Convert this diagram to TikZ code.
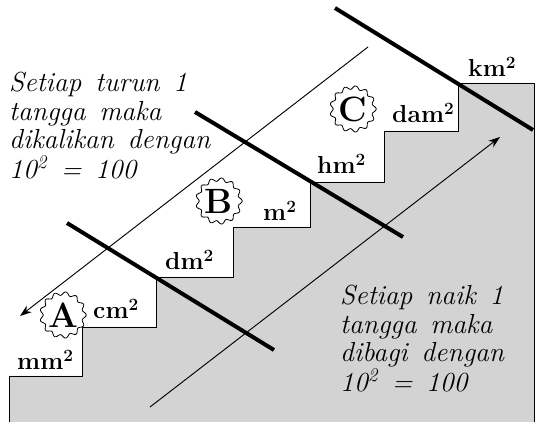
\documentclass[tikz,border=0pt]{standalone}
\usetikzlibrary{arrows.meta}

\definecolor{stairgray}{RGB}{211,211,211}

\newcommand{\wsp}{\hspace{0.5em}}

\tikzset{
    unit/.style={font=\fontsize{21}{24}\selectfont\bfseries, inner sep=0pt, anchor=base west},
    note/.style={font=\fontsize{23.5}{24.3}\selectfont\itshape,
                 align=left, inner sep=0pt, anchor=base west},
    divider/.style={line width=3.4pt},
    seal/.style={font=\fontsize{30}{32}\selectfont\bfseries, inner sep=0pt},
}

% badge: centre, name, letter
\newcommand{\sealmark}[3]{%
    \filldraw[fill=white, line width=0.7pt, shift={(#1)}]
        plot[domain=0:360, samples=181] (\x:{21.5+1.7*cos(13*\x)}) -- cycle;
    \node[seal] (#2) at (#1) {#3};
}

\begin{document}
\begin{tikzpicture}[x=0.3mm, y=-0.3mm, >={Stealth[length=10pt, width=7pt]}]
    \useasboundingbox (0,0) rectangle (539,422);

    % the stairs
    \draw[fill=stairgray, line width=0.7pt]
        (9,422) -- (9,376) -- (82,376) -- (82,327) -- (156,327) -- (156,277)
        -- (233,277) -- (233,227) -- (310,227) -- (310,182) -- (384,182)
        -- (384,131) -- (458,131) -- (458,83) -- (534,83) -- (534,422);

    % units on the treads
    \foreach \x/\y/\u in {17/370/mm, 93/319/cm, 165/270/dm, 263/221/m,
                          317/174/hm, 392/123/dam, 468/77/km}
        \node[unit] (u\u) at (\x,\y) {\u\textsuperscript{2}};

    % notes (anchored at the last line)
    \node[note] (turun) at (9,179)
        {Setiap\wsp turun\wsp 1\\tangga\wsp maka\\dikalikan\wsp dengan\\10\textsuperscript{2}\wsp =\wsp 100};
    \node[note] (naik) at (340,392)
        {Setiap\wsp naik\wsp 1\\tangga\wsp maka\\dibagi\wsp dengan\\10\textsuperscript{2}\wsp =\wsp 100};

    % arrows
    \coordinate (downA) at (368,47);
    \coordinate (downB) at (20,316);
    \coordinate (upA) at (150,407);
    \coordinate (upB) at (500,137);
    \draw[->, line width=0.8pt] (downA) -- (downB);
    \draw[->, line width=0.8pt] (upA) -- (upB);

    % dividers
    \coordinate (d1a) at (67,223);
    \coordinate (d1b) at (274,350);
    \coordinate (d2a) at (195,112);
    \coordinate (d2b) at (403,237);
    \coordinate (d3a) at (335,8);
    \coordinate (d3b) at (533,130);
    \draw[divider] (d1a) -- (d1b);
    \draw[divider] (d2a) -- (d2b);
    \draw[divider] (d3a) -- (d3b);

    % badges
    \sealmark{63,315}{sA}{A}
    \sealmark{219,201}{sB}{B}
    \sealmark{353,109}{sC}{C}
\end{tikzpicture}
\end{document}
